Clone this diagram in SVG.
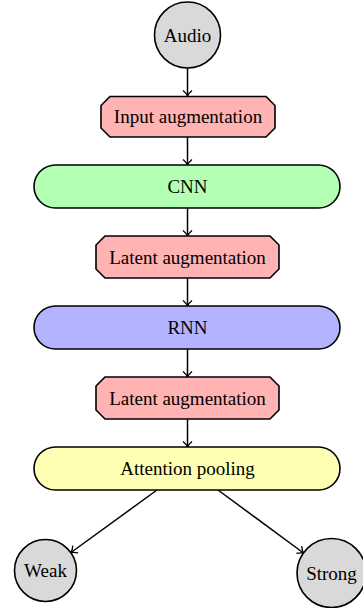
<svg xmlns="http://www.w3.org/2000/svg" width="363" height="608" viewBox="0 0 363 608">
<style>
text{font-family:"Liberation Serif","Times New Roman",serif;font-size:19px;fill:#000;text-anchor:middle}
.n{stroke:#000;stroke-width:1.6}
.c{fill:#d9d9d9}
.aug{fill:#ffb3b3}
.cnn{fill:#b3ffb3}
.rnn{fill:#b3b3ff}
.att{fill:#ffffb3}
.e{stroke:#000;stroke-width:1.5;fill:none;marker-end:url(#ah)}
</style>
<defs>
<marker id="ah" markerUnits="userSpaceOnUse" markerWidth="14" markerHeight="14" refX="10" refY="7" orient="auto">
<path d="M4.5,2.5 Q7,5.5 10,7 Q7,8.5 4.5,11.5" fill="none" stroke="#000" stroke-width="1.3"/>
</marker>
</defs>
<g id="connectors">
<line class="e" x1="187.5" y1="68" x2="187.5" y2="96"/>
<line class="e" x1="187.5" y1="137" x2="187.5" y2="165"/>
<line class="e" x1="187.5" y1="208" x2="187.5" y2="236"/>
<line class="e" x1="187.5" y1="278" x2="187.5" y2="306"/>
<line class="e" x1="187.5" y1="349" x2="187.5" y2="377"/>
<line class="e" x1="187.5" y1="419" x2="187.5" y2="447"/>
<line class="e" x1="157" y1="490" x2="71" y2="552.5"/>
<line class="e" x1="218" y1="490" x2="303.5" y2="553"/>
</g>
<g id="audio">
<circle class="n c" cx="187.5" cy="35" r="33"/>
<text x="187.5" y="41.5">Audio</text>
</g>
<g id="input-aug">
<polygon class="n aug" points="110,96.5 266,96.5 275,105.5 275,128 266,137 110,137 101,128 101,105.5"/>
<text x="188" y="122.5">Input augmentation</text>
</g>
<g id="cnn">
<rect class="n cnn" x="34" y="165" width="306" height="43" rx="21.5"/>
<text x="187.5" y="193">CNN</text>
</g>
<g id="latent-aug-1">
<polygon class="n aug" points="105,236 270,236 279,245 279,269 270,278 105,278 96,269 96,245"/>
<text x="187.5" y="263.5">Latent augmentation</text>
</g>
<g id="rnn">
<rect class="n rnn" x="34" y="306" width="306" height="43" rx="21.5"/>
<text x="187.5" y="334">RNN</text>
</g>
<g id="latent-aug-2">
<polygon class="n aug" points="105,377 270,377 279,386 279,410 270,419 105,419 96,410 96,386"/>
<text x="187.5" y="404.5">Latent augmentation</text>
</g>
<g id="attention">
<rect class="n att" x="34" y="447" width="306" height="43" rx="21.5"/>
<text x="187.5" y="475">Attention pooling</text>
</g>
<g id="weak">
<circle class="n c" cx="45.5" cy="570.5" r="31"/>
<text x="45.5" y="577">Weak</text>
</g>
<g id="strong">
<circle class="n c" cx="331.5" cy="573" r="34.5"/>
<text x="331.5" y="579.5">Strong</text>
</g>
</svg>
